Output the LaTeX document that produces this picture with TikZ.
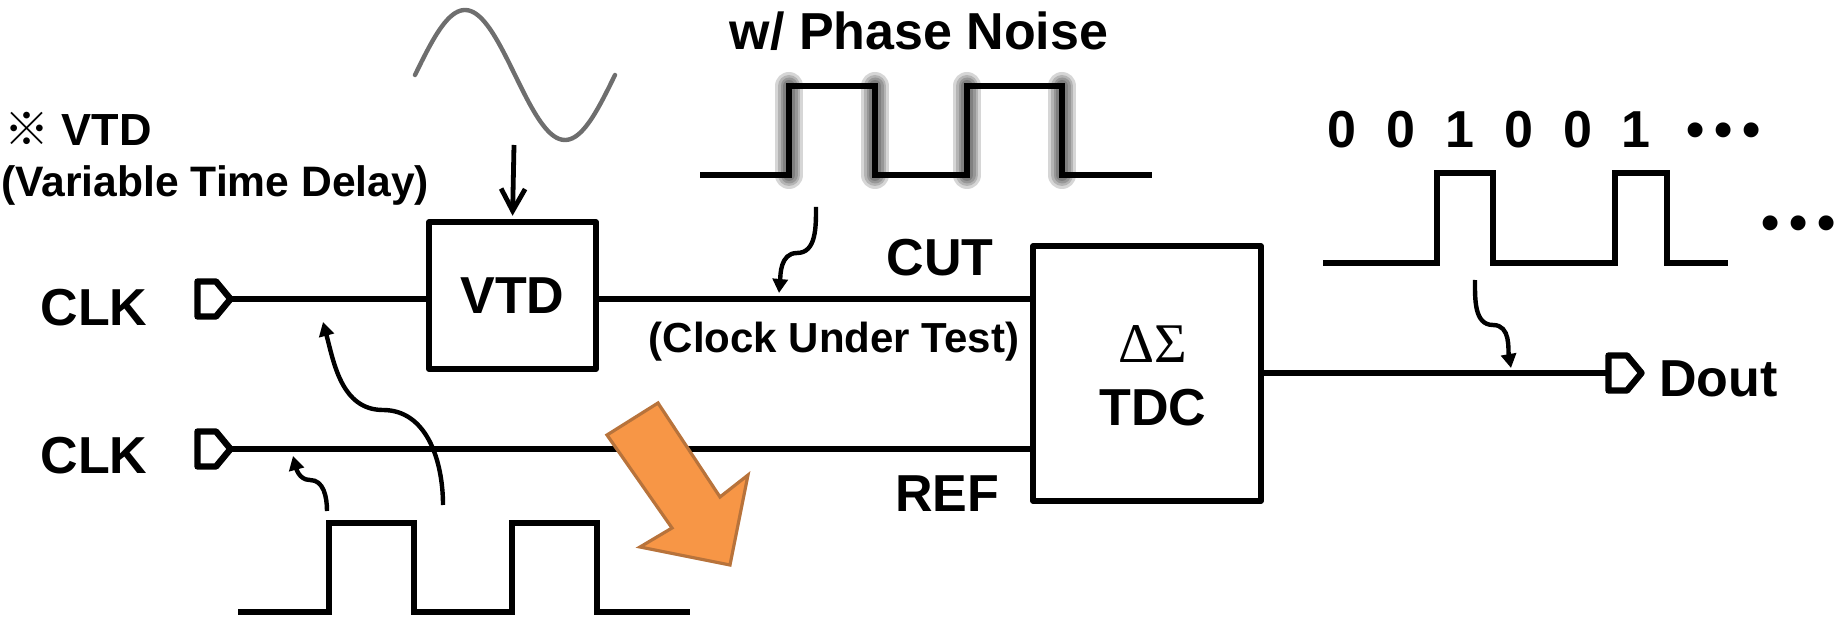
\documentclass[tikz,border=0pt]{standalone}
\usepackage{fontspec}
\setmainfont{Liberation Sans}
\newfontfamily\greekserif{Liberation Serif}
\newfontfamily\cjk{Noto Sans CJK JP}
\usetikzlibrary{arrows.meta}
\definecolor{orfill}{HTML}{F79646}
\definecolor{oredge}{HTML}{B8733B}
\definecolor{sinegray}{HTML}{6E6E6E}
\tikzset{
  port/.pic={
    \draw[line width=3.2pt, line join=round] (0,17.5) -- (18.5,17.5) -- (33,0) -- (18.5,-17.5) -- (0,-17.5) -- cycle;
    \coordinate (-in) at (0,0);
    \coordinate (-tip) at (33,0);
  }
}
\begin{document}
\begin{tikzpicture}[x=0.5pt,y=0.5pt,
  wire/.style={line width=3.2pt},
  blk/.style={draw, line width=3.2pt, inner sep=0pt, line join=round},
  big/.style={font=\fontsize{26}{30}\selectfont\bfseries, inner sep=0pt},
  mid/.style={font=\fontsize{21}{25}\selectfont\bfseries, inner sep=0pt},
  wave/.style={line width=3.2pt, line join=miter},
  bendarrow/.style={line width=2.2pt, -{Triangle[length=7pt,width=7.5pt]}},
  glow/.style={line cap=round, black, opacity=0.16}]
\useasboundingbox (0,0) rectangle (1843,617);

% blocks
\node[blk, big, minimum width=83.3pt, minimum height=73.4pt] (vtd) at (512.5,321.4) {VTD};
\node[blk, minimum width=113.8pt, minimum height=127.3pt] (tdc) at (1147,243.5) {};
\node[font=\fontsize{28}{32}\selectfont\greekserif, inner sep=0pt, anchor=base] (ds) at (1153,255) {ΔΣ};
\node[big, anchor=base] (tdctxt) at (1153,192) {TDC};

% ports
\pic (p1) at (197.5,318) {port};
\pic (p2) at (197.5,168) {port};
\pic (p3) at (1608.5,244) {port};

% wires
\draw[wire] (p1-tip) -- (p1-tip -| vtd.west);
\draw[wire] (p1-tip -| vtd.east) -- (p1-tip -| tdc.west);
\draw[wire] (p2-tip) -- (p2-tip -| tdc.west);
\draw[wire] (tdc.east |- p3-in) -- (p3-in);

% labels
\node[big, anchor=base] (clka) at (94,292) {CLK};
\node[big, anchor=base] (clkb) at (94,144) {CLK};
\node[big, anchor=base] (cut) at (940,342) {CUT};
\node[mid, anchor=base] (cutl) at (834,265) {(Clock Under Test)};
\node[big, anchor=base] (ref) at (947,106) {REF};
\node[big, anchor=base west] (dout) at (1659,221) {Dout};
\node[big, anchor=base] (pn) at (919,567) {w/ Phase Noise};
\node[mid, anchor=base west, font=\fontsize{22.5}{26}\selectfont\bfseries] (note1) at (4,471) {{\cjk\bfseries ※} VTD};
\node[mid, anchor=base west, font=\fontsize{21.3}{25}\selectfont\bfseries] (note2) at (1,420) {(Variable Time Delay)};
\node[big, anchor=base west] (bits) at (1327,469) {\spaceskip=15pt\relax 0 0 1 0 0 1\hspace{18pt}\spaceskip=4.9pt\relax • • •};
\node[big, anchor=base west] (dots) at (1761,376) {\spaceskip=4.9pt\relax • • •};

% sine wave into VTD
\draw[sinegray, line width=2.2pt, line cap=round] plot[domain=0:360, samples=90] ({415+\x/1.8},{542+65*sin(\x)});
\coordinate (sinebot) at (514,472);
\draw[line width=2.4pt, shorten >=1.6pt, -{Straight Barb[length=11pt,width=12pt]}] (sinebot) -- (vtd.north);

% bottom clock waveform
\draw[wave] (238,5) -- (329,5) -- (329,94) -- (414,94) -- (414,5) -- (512,5) -- (512,94) -- (597,94) -- (597,5) -- (690,5);

% noisy waveform
\foreach \xx in {789,875,967,1062} {
  \foreach \w in {14pt,11pt,8.5pt,6pt} {
    \draw[glow, line width=\w] (\xx,442) -- (\xx,531);
  }
}
\draw[wave] (700,442) -- (789,442) -- (789,531) -- (875,531) -- (875,442) -- (967,442) -- (967,531) -- (1062,531) -- (1062,442) -- (1152,442);

% output waveform
\draw[wave] (1323,354) -- (1437,354) -- (1437,444) -- (1493,444) -- (1493,354) -- (1615,354) -- (1615,444) -- (1667,444) -- (1667,354) -- (1728,354);

% curved arrows
\coordinate (a1s) at (443,112); \coordinate (a1m) at (383,207); \coordinate (a1e) at (323,295);
\draw[bendarrow] (a1s) to[out=90,in=0] (a1m) to[out=180,in=-75] (a1e);
\coordinate (a2s) at (327,106); \coordinate (a2m) at (310,137); \coordinate (a2e) at (293,161);
\draw[bendarrow] (a2s) to[out=90,in=0] (a2m) to[out=180,in=-75] (a2e);
\coordinate (a3s) at (816,410); \coordinate (a3m) at (797,364); \coordinate (a3e) at (779,324);
\draw[bendarrow] (a3s) to[out=-90,in=0] (a3m) to[out=180,in=85] (a3e);
\coordinate (a4s) at (1475,337); \coordinate (a4m) at (1493,292); \coordinate (a4e) at (1511,249);
\draw[bendarrow] (a4s) to[out=-90,in=180] (a4m) to[out=0,in=100] (a4e);

% orange arrow
\draw[fill=orfill, draw=oredge, line width=1.6pt] (607,182) -- (658,214) -- (720,120) -- (748,142) -- (730,52) -- (640,70) -- (672,89) -- cycle;
\end{tikzpicture}
\end{document}
